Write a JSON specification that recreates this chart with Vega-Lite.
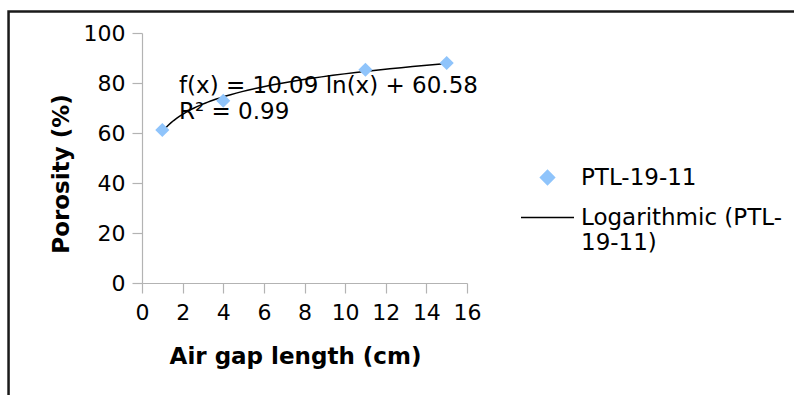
{
  "$schema": "https://vega.github.io/schema/vega-lite/v6.json",
  "width": 325,
  "height": 250,
  "autosize": {"type": "none"},
  "padding": {"left": 142, "top": 33, "right": 327, "bottom": 112},
  "background": "white",
  "config": {
    "view": {"stroke": null},
    "font": "DejaVu Sans",
    "axis": {
      "grid": false,
      "labelFont": "DejaVu Sans",
      "labelFontSize": 22,
      "labelColor": "#000000",
      "labelOverlap": false,
      "labelFlush": false,
      "labelBound": false,
      "domainColor": "#b3b3b3",
      "tickColor": "#b3b3b3",
      "domainWidth": 1.2,
      "tickWidth": 1.2,
      "tickSize": 10,
      "titleFont": "DejaVu Sans",
      "titleFontSize": 23,
      "titleFontWeight": "bold",
      "titleColor": "#000000"
    }
  },
  "data": {
    "values": [
      {"gap": 1, "porosity": 61.2, "series": "PTL-19-11"},
      {"gap": 4, "porosity": 72.9, "series": "PTL-19-11"},
      {"gap": 11, "porosity": 85.3, "series": "PTL-19-11"},
      {"gap": 15, "porosity": 88.0, "series": "PTL-19-11"}
    ]
  },
  "layer": [
    {
      "data": {"values": [{}]},
      "mark": {"type": "rect", "fill": null, "stroke": "#1a1a1a", "strokeWidth": 2.5, "clip": false},
      "encoding": {
        "x": {"datum": -6.57, "type": "quantitative"},
        "x2": {"datum": 40},
        "y": {"datum": 108.6, "type": "quantitative"},
        "y2": {"datum": -60}
      }
    },
    {
      "transform": [{"regression": "porosity", "on": "gap", "method": "log"}],
      "mark": {"type": "line", "strokeWidth": 1.5, "clip": false},
      "encoding": {
        "x": {"field": "gap", "type": "quantitative"},
        "y": {"field": "porosity", "type": "quantitative"},
        "color": {"datum": "Logarithmic (PTL-19-11)", "type": "nominal"}
      }
    },
    {
      "mark": {"type": "point", "shape": "diamond", "filled": true, "size": 200, "opacity": 1},
      "encoding": {
        "x": {
          "field": "gap",
          "type": "quantitative",
          "scale": {"domain": [0, 16], "nice": false, "zero": false},
          "axis": {
            "values": [0, 2, 4, 6, 8, 10, 12, 14, 16],
            "title": "Air gap length (cm)",
            "labelPadding": 9.5,
            "titleX": 153,
            "titleY": 80,
            "titleBaseline": "alphabetic"
          }
        },
        "y": {
          "field": "porosity",
          "type": "quantitative",
          "scale": {"domain": [0, 100], "nice": false, "zero": false},
          "axis": {
            "values": [0, 20, 40, 60, 80, 100],
            "title": "Porosity (%)",
            "labelPadding": 7,
            "titleX": -74,
            "titleY": 140.5,
            "titleAngle": -90,
            "titleAlign": "center",
            "titleBaseline": "alphabetic"
          }
        },
        "color": {
          "field": "series",
          "type": "nominal",
          "scale": {
            "domain": ["PTL-19-11", "Logarithmic (PTL-19-11)"],
            "range": ["#8fc4fb", "#000000"]
          },
          "legend": {
            "title": null,
            "orient": "none",
            "legendX": 378,
            "legendY": 117,
            "symbolSize": 2809,
            "symbolOpacity": 1,
            "labelFont": "DejaVu Sans",
            "labelFontSize": 23,
            "labelColor": "#000000",
            "labelOffset": 6,
            "labelLimit": 300,
            "rowPadding": -5,
            "labelExpr": "datum.label == 'Logarithmic (PTL-19-11)' ? ['Logarithmic (PTL-', '19-11)'] : datum.label",
            "encode": {
              "symbols": {
                "update": {
                  "shape": {"signal": "datum.value === 'PTL-19-11' ? 'diamond' : 'stroke'"},
                  "size": {"signal": "datum.value === 'PTL-19-11' ? 200 : 2809"},
                  "fill": {"signal": "datum.value === 'PTL-19-11' ? '#8fc4fb' : 'transparent'"},
                  "stroke": {"signal": "datum.value === 'PTL-19-11' ? 'transparent' : '#000000'"},
                  "strokeWidth": {"value": 1.5},
                  "opacity": {"value": 1}
                }
              }
            }
          }
        }
      }
    },
    {
      "data": {"values": [{}]},
      "mark": {
        "type": "text",
        "text": ["f(x) = 10.09 ln(x) + 60.58", "R² = 0.99"],
        "align": "left",
        "baseline": "alphabetic",
        "fontSize": 23,
        "lineHeight": 26,
        "color": "#000000",
        "font": "DejaVu Sans"
      },
      "encoding": {
        "x": {"datum": 1.82, "type": "quantitative"},
        "y": {"datum": 76.1, "type": "quantitative"}
      }
    }
  ]
}
